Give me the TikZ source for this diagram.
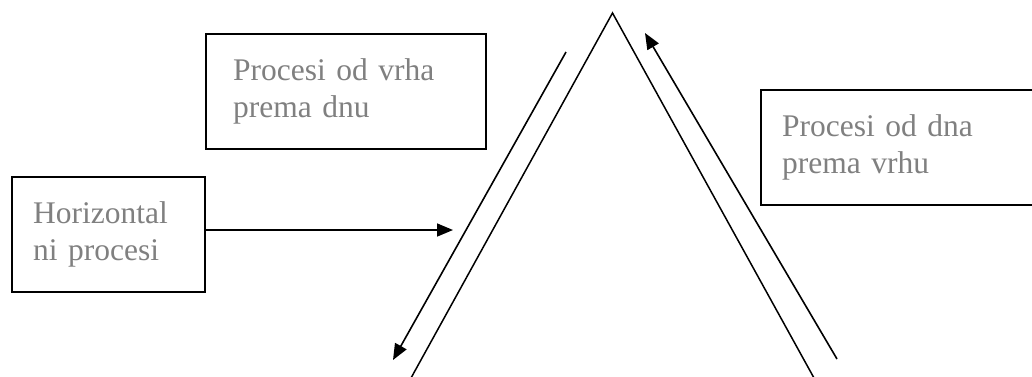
\documentclass[tikz,border=0pt]{standalone}
\usepackage{fontspec}
\setmainfont{Liberation Serif}
\usetikzlibrary{arrows.meta}
\definecolor{txtgray}{HTML}{808080}
\begin{document}
\begin{tikzpicture}[x=1pt,y=-1pt,
  procbox/.style={draw=black, line width=2.2pt, rectangle, anchor=north west,
    inner xsep=21pt, inner ysep=0pt, align=left, minimum height=115pt,
    text=txtgray, font=\fontsize{31.5}{37}\selectfont},
  side/.style={line width=1.5pt},
  arr/.style={line width=1.6pt, -{Triangle[length=16pt,width=13pt]}}]
\useasboundingbox (0,0) rectangle (1032,376);
% triangle
\coordinate (apex) at (612.5,13);
\coordinate (lfoot) at (411,378);
\coordinate (rfoot) at (814,378);
\draw[side] (lfoot) -- (apex) -- (rfoot);
% boxes
\node[procbox, inner xsep=27pt, text width=226pt] (top) at (205,33) {Procesi od vrha\\prema dnu};
\node[procbox, text width=238pt] (right) at (760,89) {Procesi od dna\\prema vrhu};
\node[procbox, text width=151pt] (hor) at (11,176) {Horizontal\\ni procesi};
% arrows
\coordinate (downS) at (566,52);
\coordinate (downE) at (393,360);
\coordinate (upS) at (837,359);
\coordinate (upE) at (645,33);
\coordinate (horE) at (453,230);
\draw[arr] (downS) -- (downE);
\draw[arr] (upS) -- (upE);
\draw[arr] (hor.east |- horE) -- (horE);
\end{tikzpicture}
\end{document}
